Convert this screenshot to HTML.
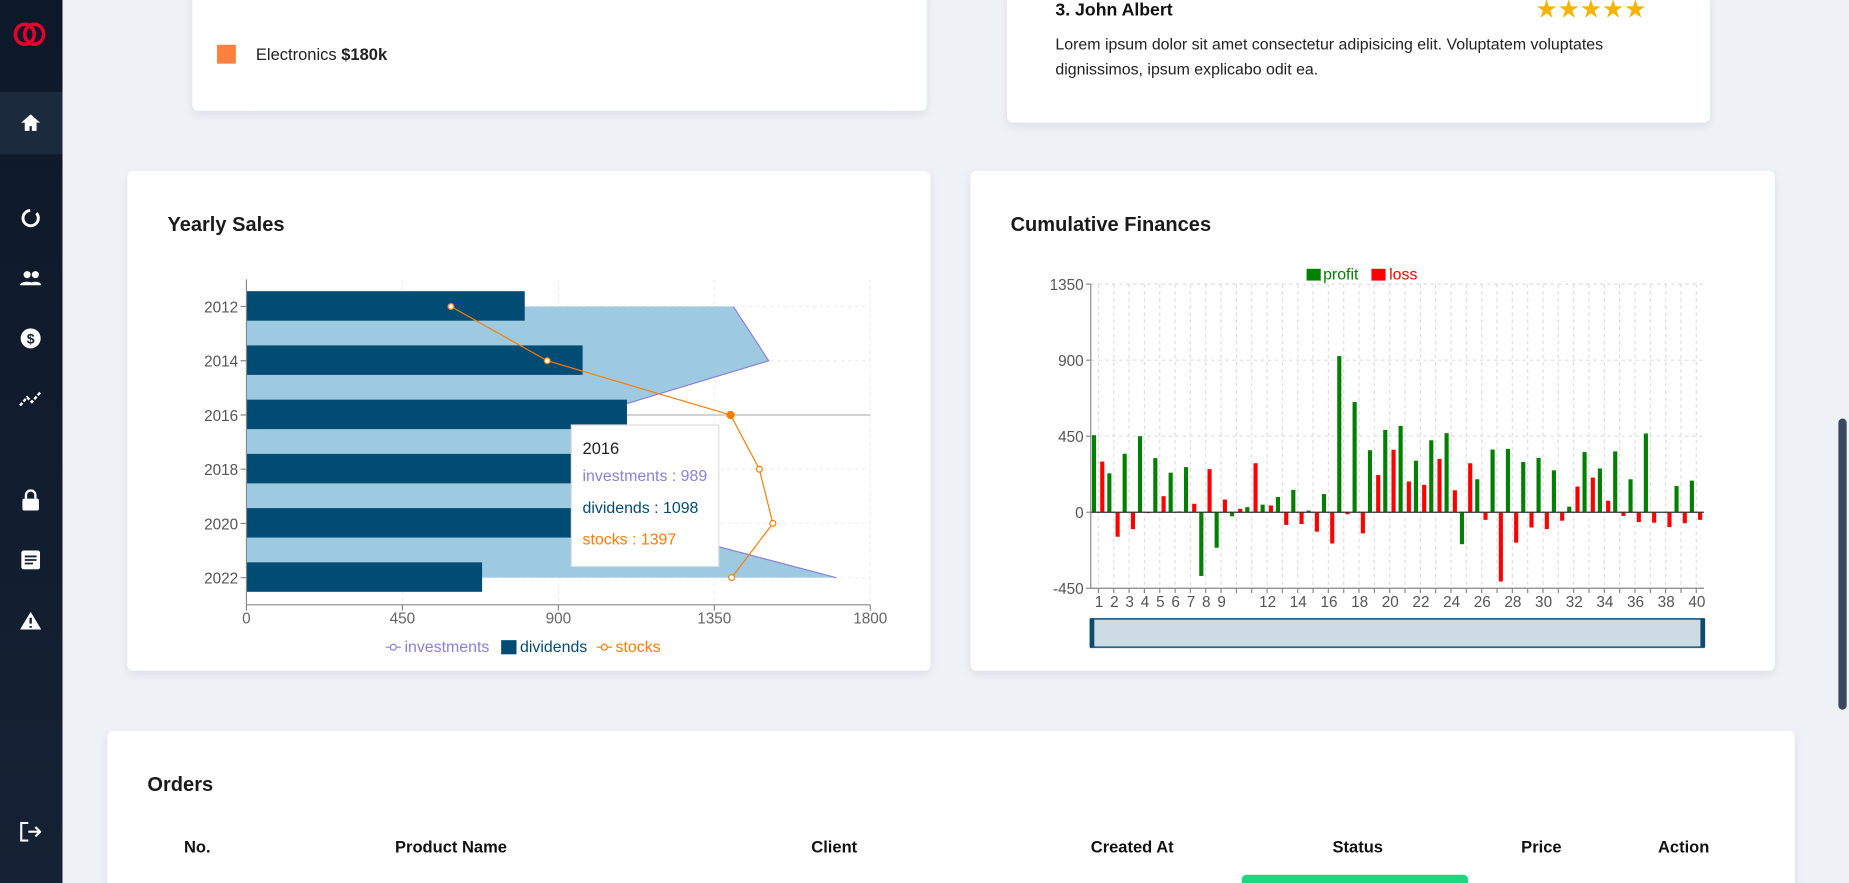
<!DOCTYPE html>
<html><head><meta charset="utf-8"><style>
html,body{margin:0;padding:0;width:1849px;height:883px;overflow:hidden;background:#eef2f7;font-family:"Liberation Sans",sans-serif}
#clip{position:absolute;left:0;top:0;width:1849px;height:883px;overflow:hidden}
#wrap{position:absolute;left:0;top:0;width:1568px;height:749px;overflow:hidden;transform:scale(1.17921,1.17891);transform-origin:0 0;background:#eef2f7}
.abs{position:absolute}
.card{position:absolute;background:#fff;border-radius:5px;box-shadow:0 3px 8px rgba(0,0,0,.08)}
.title{position:absolute;font-weight:bold;font-size:17px;color:#1a1a1a}
.side{position:absolute;left:0;top:0;width:53px;height:749px;background:linear-gradient(#0d1828,#152235)}
.th{position:absolute;top:710px;font-weight:bold;font-size:14px;color:#111}
</style></head><body>
<div id="clip">
<div id="wrap">
<div class="side">
 <svg class="abs" style="left:11px;top:19px" width="28" height="20"><ellipse cx="10" cy="10" rx="8" ry="8.5" fill="none" stroke="#e8002d" stroke-width="3"/><ellipse cx="18" cy="10" rx="8" ry="8.5" fill="none" stroke="#e8002d" stroke-width="3"/></svg>
 <div class="abs" style="left:0;top:78px;width:53px;height:53px;background:#1c2a3e"></div>
 <svg class="abs" style="left:17px;top:96px" width="18" height="16"><path d="M9 1 L17 8 H14 V15 H10 V11 H8 V15 H4 V8 H1Z" fill="#fff"/></svg>
 <svg class="abs" style="left:17px;top:176px" width="18" height="18"><circle cx="9" cy="9" r="6.5" fill="none" stroke="#fff" stroke-width="2.5" stroke-dasharray="30 6"/></svg>
 <svg class="abs" style="left:16px;top:229px" width="20" height="14"><circle cx="7" cy="4" r="3" fill="#fff"/><circle cx="14" cy="4" r="3" fill="#fff"/><path d="M1 13c0-4 12-4 12 0zM9 13c0-4 10-4 10 0z" fill="#fff"/></svg>
 <svg class="abs" style="left:17px;top:278px" width="18" height="18"><circle cx="9" cy="9" r="8.5" fill="#fff"/><text x="9" y="13.5" font-size="12" font-weight="bold" text-anchor="middle" fill="#152235">$</text></svg>
 <svg class="abs" style="left:16px;top:330px" width="20" height="16"><path d="M1 14 L7 7 L11 11 L18 3" stroke="#fff" stroke-width="2" fill="none" stroke-dasharray="3 1.5"/></svg>
 <svg class="abs" style="left:18px;top:415px" width="16" height="18"><path d="M4 8V5a4 4 0 0 1 8 0v3" stroke="#fff" stroke-width="2" fill="none"/><rect x="1" y="8" width="14" height="10" rx="1.5" fill="#fff"/></svg>
 <svg class="abs" style="left:18px;top:467px" width="16" height="16"><rect width="16" height="16" rx="2" fill="#fff"/><path d="M3 5h10M3 8h10M3 11h7" stroke="#152235" stroke-width="1.5"/></svg>
 <svg class="abs" style="left:16px;top:518px" width="20" height="17"><path d="M10 1 L19 16 H1Z" fill="#fff"/><path d="M10 6v5M10 13v1.5" stroke="#152235" stroke-width="2"/></svg>
 <svg class="abs" style="left:17px;top:697px" width="18" height="17"><path d="M7 1H1V16H7M7 8.5H17M13 4.5L17 8.5L13 12.5" stroke="#fff" stroke-width="1.8" fill="none"/></svg>
</div>
<div class="abs" style="left:1557px;top:0;width:11px;height:749px;background:#eef2f7"></div>
<div class="abs" style="left:1559px;top:355px;width:7px;height:247px;border-radius:4px;background:#3a4a5e"></div>

<div class="card" style="left:163px;top:-10px;width:623px;height:104px">
 <div class="abs" style="left:21px;top:6px;width:16px;height:4px;background:#1a8cff"></div>
 <div class="abs" style="left:224px;top:6px;width:16px;height:4px;background:#16c79a"></div>
 <div class="abs" style="left:442px;top:6px;width:16px;height:4px;background:#ffb81c"></div>
 <div class="abs" style="left:21px;top:48px;width:16px;height:16px;background:#ff7f3e"></div>
 <div class="abs" style="left:54px;top:48px;font-size:14px;color:#222">Electronics <b>$180k</b></div>
</div>
<div class="card" style="left:854px;top:-10px;width:596px;height:114px">
 <div class="abs" style="left:41px;top:10px;font-size:15px;font-weight:bold;color:#111">3. John Albert</div>
 <div class="abs" style="left:448px;top:6px;font-size:21px;color:#f5b400;letter-spacing:0px">★★★★★</div>
 <div class="abs" style="left:41px;top:37px;width:530px;font-size:13.5px;line-height:21px;color:#222">Lorem ipsum dolor sit amet consectetur adipisicing elit. Voluptatem voluptates dignissimos, ipsum explicabo odit ea.</div>
</div>

<div class="card" style="left:108px;top:145px;width:681px;height:424px">
 <div class="title" style="left:34px;top:36px">Yearly Sales</div>
</div>
<svg id="ys" class="abs" style="left:108px;top:145px" width="681" height="424"></svg>

<div class="card" style="left:823px;top:145px;width:682px;height:424px">
 <div class="title" style="left:34px;top:36px">Cumulative Finances</div>
</div>
<svg id="cf" class="abs" style="left:823px;top:145px" width="682" height="424"></svg>

<div class="card" style="left:91px;top:620px;width:1431px;height:140px">
 <div class="title" style="left:34px;top:36px">Orders</div>
</div>
<div class="th" style="left:156px">No.</div>
<div class="th" style="left:335px">Product Name</div>
<div class="th" style="left:688px">Client</div>
<div class="th" style="left:925px">Created At</div>
<div class="th" style="left:1130px">Status</div>
<div class="th" style="left:1290px">Price</div>
<div class="th" style="left:1406px">Action</div>
<div class="abs" style="left:1053px;top:742px;width:192px;height:7px;border-radius:4px 4px 0 0;background:#1ed67f"></div>
</div>
</div>
<script>
// Yearly sales data
const years=['2012','2014','2016','2018','2020','2022'];
const investments=[1405,1507,989,1050,1107,1702];
const dividends=[803,970,1098,1050,1000,680];
const stocks=[590,868,1397,1480,1519,1400];
const xTicks=[0,450,900,1350,1800];
// Cumulative data
const cats=[];for(let i=1;i<=40;i++)cats.push(i);
const profit=[456,230,346,450,320,234,267,-377,-210,-24,30,45,90,132,10,108,924,652,367,487,511,305,426,468,-189,195,371,375,297,322,248,33,356,259,360,195,466,0,155,187];
const loss=[300,-145,-100,-5,95,5,50,255,75,20,290,40,-75,-70,-115,-185,-12,-125,220,370,182,162,315,130,290,-45,-410,-180,-90,-100,-50,152,205,68,-22,-58,-62,-88,-65,-45];
const yTicks=[-450,0,450,900,1350];
const catLabels=['1','2','3','4','5','6','7','8','9','12','14','16','18','20','22','24','26','28','30','32','34','36','38','40'];

const NS='http://www.w3.org/2000/svg';
function mk(svg,tag,a,txt){const e=document.createElementNS(NS,tag);for(const k in a)e.setAttribute(k,a[k]);if(txt!==undefined)e.textContent=txt;svg.appendChild(e);return e;}
const F='Liberation Sans, sans-serif';
(function(){
const s=document.getElementById('ys');
const x0=101,x1=630,yTop=92,yBot=368;
const X=v=>x0+v/1800*(x1-x0);
const band=(yBot-yTop)/years.length;
const Y=i=>yTop+band*(i+0.5);
xTicks.forEach(t=>{const g=mk(s,'line',{x1:X(t),x2:X(t),y1:yTop,y2:yBot,stroke:'#eee','stroke-dasharray':'3 3'});

const l=mk(s,'text',{x:X(t),y:yBot+16,'font-size':13,fill:'#666','text-anchor':'middle','font-family':F},t);
});
years.forEach((y,i)=>{const g=mk(s,'line',{x1:x0,x2:x1,y1:Y(i),y2:Y(i),stroke:'#eee','stroke-dasharray':'3 3'});
});
const ap=mk(s,'line',{x1:x0,x2:x1,y1:Y(2),y2:Y(2),stroke:'#ccc','stroke-width':1.5});

let d='M'+x0+','+Y(0);investments.forEach((v,i)=>d+=' L'+X(v)+','+Y(i));d+=' L'+x0+','+Y(years.length-1)+'Z';
const ar=mk(s,'path',{d:d,fill:'#9ecae1'});
let dl='';investments.forEach((v,i)=>dl+=(i?' L':'M')+X(v)+','+Y(i));
const il=mk(s,'path',{d:dl,fill:'none',stroke:'#8b7fd8','stroke-width':1});
dividends.forEach((v,i)=>{const b=mk(s,'rect',{x:x0,y:Y(i)-13,width:X(v)-x0,height:25,fill:'#004c74'});
});
mk(s,'line',{x1:x0,x2:x0,y1:yTop,y2:yBot,stroke:'#888'});
mk(s,'line',{x1:x0,x2:x1,y1:yBot,y2:yBot,stroke:'#888'});
years.forEach((y,i)=>{mk(s,'line',{x1:x0-5,x2:x0,y1:Y(i),y2:Y(i),stroke:'#888'});
const l=mk(s,'text',{x:x0-7,y:Y(i)+5,'font-size':13,fill:'#555','text-anchor':'end','font-family':F},y);
});
xTicks.forEach(t=>mk(s,'line',{x1:X(t),x2:X(t),y1:yBot,y2:yBot+5,stroke:'#888'}));
let sl='';stocks.forEach((v,i)=>sl+=(i?' L':'M')+X(v)+','+Y(i));
const sp=mk(s,'path',{d:sl,fill:'none',stroke:'#ff7b00','stroke-width':1});
stocks.forEach((v,i)=>{const c=mk(s,'circle',{cx:X(v),cy:Y(i),r:i==2?3:2.5,fill:i==2?'#ff7b00':'#fff',stroke:'#ff7b00','stroke-width':1});
});
const tg=mk(s,'g',{});
mk(tg,'rect',{x:376.5,y:215.5,width:125,height:120,fill:'#fff',stroke:'#ddd'});
mk(tg,'text',{x:386,y:240,'font-size':14,fill:'#222','font-family':F},years[2]);
mk(tg,'text',{x:386,y:263,'font-size':13.5,fill:'#8b7fd8','font-family':F},'investments : '+investments[2]);
mk(tg,'text',{x:386,y:290,'font-size':13.5,fill:'#004c74','font-family':F},'dividends : '+dividends[2]);
mk(tg,'text',{x:386,y:317,'font-size':13.5,fill:'#ff7b00','font-family':F},'stocks : '+stocks[2]);
const lg=mk(s,'g',{});
mk(lg,'line',{x1:219,x2:232,y1:404,y2:404,stroke:'#8b7fd8'});mk(lg,'circle',{cx:225.5,cy:404,r:2.5,fill:'#fff',stroke:'#8b7fd8'});
mk(lg,'text',{x:235,y:408,'font-size':13.5,fill:'#8b7fd8','font-family':F},'investments');
mk(lg,'rect',{x:317,y:398,width:13,height:12,fill:'#004c74'});
mk(lg,'text',{x:333,y:408,'font-size':13.5,fill:'#004c74','font-family':F},'dividends');
mk(lg,'line',{x1:398,x2:411,y1:404,y2:404,stroke:'#ff7b00'});mk(lg,'circle',{cx:404.5,cy:404,r:2.5,fill:'#fff',stroke:'#ff7b00'});
mk(lg,'text',{x:414,y:408,'font-size':13.5,fill:'#ff7b00','font-family':F},'stocks');
})();
(function(){
const s=document.getElementById('cf');
const x0=102,x1=622,yTop=96,yBot=354;
const Y=v=>yBot-(v+450)/1800*(yBot-yTop);
const cw=(x1-x0)/cats.length;
const C=i=>x0+cw*(i+0.5);
yTicks.forEach(t=>{const g=mk(s,'line',{x1:x0,x2:x1,y1:Y(t),y2:Y(t),stroke:'#ddd','stroke-dasharray':'3 3'});

const l=mk(s,'text',{x:x0-6,y:Y(t)+5,'font-size':13,fill:'#555','text-anchor':'end','font-family':F},t);

mk(s,'line',{x1:x0-4,x2:x0,y1:Y(t),y2:Y(t),stroke:'#888'});});
cats.forEach((c,i)=>{const g=mk(s,'line',{x1:C(i),x2:C(i),y1:yTop,y2:yBot,stroke:'#ddd','stroke-dasharray':'3 3'});

mk(s,'line',{x1:C(i),x2:C(i),y1:yBot,y2:yBot+4,stroke:'#888'});
if(catLabels.indexOf(String(c))>=0){const l=mk(s,'text',{x:C(i)+0.5,y:yBot+16,'font-size':13,fill:'#555','text-anchor':'middle','font-family':F},c);
}});
profit.forEach((v,i)=>{const b=mk(s,'rect',{x:C(i)-5.5,y:Math.min(Y(v),Y(0)),width:3.5,height:Math.abs(Y(v)-Y(0)),fill:'#008000'});
});
loss.forEach((v,i)=>{const b=mk(s,'rect',{x:C(i)+1.5,y:Math.min(Y(v),Y(0)),width:3.5,height:Math.abs(Y(v)-Y(0)),fill:'#ff0000'});
});
mk(s,'line',{x1:x0,x2:x1,y1:Y(0),y2:Y(0),stroke:'#333'});
mk(s,'line',{x1:x0,x2:x0,y1:yTop,y2:yBot,stroke:'#888'});
mk(s,'line',{x1:x0,x2:x1,y1:yBot,y2:yBot,stroke:'#888'});
const lg=mk(s,'g',{});
mk(lg,'rect',{x:285,y:83,width:12,height:10,fill:'#008000'});
mk(lg,'text',{x:299,y:92,'font-size':13.5,fill:'#008000','font-family':F},'profit');
mk(lg,'rect',{x:340,y:83,width:12,height:10,fill:'#ff0000'});
mk(lg,'text',{x:355,y:92,'font-size':13.5,fill:'#ff0000','font-family':F},'loss');
const dz=mk(s,'g',{});
mk(dz,'rect',{x:102,y:380,width:520,height:24,fill:'#cddbe4',stroke:'#2a6489','stroke-width':1.5});
mk(dz,'rect',{x:101,y:380,width:4,height:24,fill:'#0d4a6e'});
mk(dz,'rect',{x:619,y:380,width:4,height:24,fill:'#0d4a6e'});
})();
</script>
</body></html>
